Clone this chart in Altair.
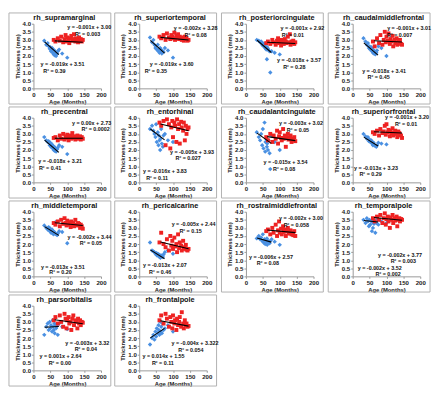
import altair as alt
import pandas as pd

REGIONS = ["rh_supramarginal", "rh_superiortemporal", "rh_posteriorcingulate", "rh_caudalmiddlefrontal",
           "rh_precentral", "rh_entorhinal", "rh_caudalantcingulate", "rh_superiorfrontal",
           "rh_middletemporal", "rh_pericalcarine", "rh_rostralmiddlefrontal", "rh_temporalpole",
           "rh_parsorbitalis", "rh_frontalpole"]

BLUE_AGES = [32, 38, 42, 45, 48, 50, 52, 55, 57, 58, 60, 62, 63, 65, 67, 70, 72, 76, 85, 100]
RED_AGES = [60, 65, 72, 78, 82, 88, 92, 95, 98, 100, 104, 106, 110, 112, 115, 118, 120, 124, 126,
            130, 132, 135, 138, 140, 143, 146]

BLUE_THICK = [
    [2.95, 2.7, 2.8, 2.6, 2.45, 2.55, 2.3, 2.5, 2.2, 2.4, 2.1, 2.35, 2.05, 2.25, 2.0, 2.15, 2.3, 2.4, 2.15, 1.9],
    [3.15, 2.85, 3.0, 2.7, 2.5, 2.6, 2.4, 2.7, 2.3, 2.45, 2.2, 2.5, 2.3, 2.4, 2.15, 2.3, 2.25, 2.5, 2.35, 1.9],
    [3.0, 2.95, 2.85, 2.9, 2.7, 2.8, 2.6, 2.75, 2.5, 2.6, 2.4, 1.8, 2.55, 2.45, 2.35, 2.3, 0.98, 2.3, 2.2, 2.1],
    [3.1, 2.9, 2.7, 2.8, 2.5, 2.6, 2.4, 2.55, 2.3, 2.45, 2.2, 2.35, 2.15, 2.3, 2.1, 2.2, 2.35, 2.6, 2.5, 2.0],
    [2.8, 2.6, 2.5, 2.55, 2.3, 2.45, 2.2, 2.35, 2.1, 2.25, 2.0, 2.2, 1.95, 2.1, 1.9, 2.05, 2.15, 2.3, 2.2, 1.75],
    [3.3, 3.5, 3.2, 3.0, 2.8, 3.6, 2.5, 3.1, 2.3, 2.9, 2.6, 2.0, 2.7, 3.3, 2.4, 2.2, 2.9, 3.0, 2.6, 2.5],
    [3.1, 2.8, 2.6, 3.0, 2.3, 3.3, 2.1, 3.7, 1.9, 2.5, 2.7, 2.2, 2.4, 2.0, 2.6, 1.8, 0.82, 2.9, 2.5, 2.0],
    [3.0, 2.85, 2.7, 2.8, 2.55, 2.65, 2.5, 2.6, 2.4, 2.5, 2.3, 2.45, 2.35, 2.3, 2.25, 2.2, 2.3, 2.45, 2.4, 2.35],
    [3.15, 3.0, 2.9, 3.05, 2.8, 2.95, 2.7, 2.9, 2.65, 2.8, 2.6, 2.75, 2.7, 3.35, 2.6, 2.55, 2.65, 2.8, 2.75, 2.05],
    [2.1, 1.6, 1.55, 1.5, 1.4, 1.45, 1.3, 1.4, 1.25, 1.35, 1.2, 1.3, 1.15, 1.25, 1.3, 1.2, 1.35, 1.5, 1.6, 1.4],
    [2.35, 2.5, 2.3, 2.4, 2.2, 2.6, 2.1, 2.3, 2.0, 2.25, 2.15, 2.35, 1.95, 2.2, 2.1, 2.05, 2.2, 2.3, 2.15, 1.95],
    [3.5, 3.3, 3.6, 3.4, 3.1, 3.5, 3.2, 3.45, 2.8, 3.35, 3.0, 3.55, 3.25, 3.4, 2.7, 3.3, 3.5, 3.2, 3.4, 3.3],
    [2.2, 2.7, 2.9, 2.5, 3.0, 2.6, 2.8, 2.4, 3.1, 2.7, 2.5, 2.9, 2.3, 2.8, 2.6, 2.75, 2.2, 2.9, 2.7, 2.55],
    [1.6, 2.0, 2.2, 1.9, 2.4, 2.1, 2.6, 2.3, 2.8, 2.5, 2.2, 3.0, 2.4, 2.7, 2.3, 2.9, 2.5, 2.6, 2.8, 2.4],
]

RED_THICK = [
    [3.0, 2.9, 3.1, 2.95, 3.2, 2.85, 3.05, 3.3, 2.9, 3.15, 3.0, 2.8, 3.1, 3.25, 2.95, 3.05, 3.35, 2.9, 3.1, 3.0, 2.85, 3.15, 2.95, 3.05, 2.9, 3.0],
    [3.2, 3.1, 3.3, 3.0, 3.4, 3.15, 3.05, 3.3, 3.2, 3.1, 3.45, 3.0, 3.25, 3.15, 3.35, 3.05, 3.2, 3.1, 3.0, 3.15, 2.95, 3.2, 3.05, 3.1, 2.95, 3.0],
    [2.8, 2.9, 2.75, 3.0, 2.85, 2.7, 2.95, 3.1, 2.8, 2.9, 2.65, 3.0, 2.85, 2.75, 3.05, 2.9, 2.8, 3.2, 2.85, 3.35, 2.7, 2.9, 2.8, 2.95, 2.75, 2.85],
    [2.9, 2.6, 3.1, 2.8, 3.3, 2.7, 3.0, 3.5, 2.85, 3.2, 2.95, 3.4, 2.75, 3.05, 2.9, 3.25, 2.6, 3.0, 2.8, 3.1, 2.7, 2.95, 2.85, 3.0, 2.75, 2.7],
    [2.75, 2.8, 2.6, 2.9, 2.7, 3.0, 2.65, 2.85, 2.75, 2.95, 2.6, 2.8, 2.9, 2.7, 3.05, 2.75, 2.85, 2.65, 2.8, 2.9, 2.7, 2.75, 2.85, 2.65, 2.8, 2.7],
    [3.7, 3.5, 3.8, 2.3, 3.9, 3.6, 2.1, 3.4, 3.8, 2.8, 3.7, 3.5, 2.5, 3.9, 3.3, 3.6, 2.4, 3.75, 3.4, 3.2, 3.7, 2.6, 3.5, 3.0, 3.3, 3.4],
    [2.8, 2.6, 3.0, 2.5, 2.9, 2.7, 3.2, 2.4, 2.85, 3.1, 2.75, 2.6, 3.3, 2.7, 2.9, 2.2, 2.8, 3.0, 2.65, 2.75, 2.9, 2.5, 2.7, 2.6, 2.8, 2.55],
    [3.1, 3.0, 3.2, 2.9, 3.3, 3.05, 3.15, 3.5, 2.95, 3.6, 3.1, 3.25, 2.85, 3.2, 3.05, 3.35, 2.9, 3.1, 3.2, 3.0, 2.8, 3.15, 3.05, 2.95, 2.9, 2.75],
    [3.3, 3.2, 3.4, 3.1, 3.5, 3.25, 3.6, 3.3, 3.15, 3.45, 3.2, 3.35, 3.05, 3.4, 3.25, 3.3, 3.1, 3.5, 3.2, 3.15, 3.3, 3.25, 3.0, 3.2, 3.1, 2.95],
    [2.1, 2.7, 2.0, 1.8, 2.3, 1.6, 2.5, 1.9, 2.2, 1.7, 2.4, 1.85, 2.0, 1.5, 2.6, 1.75, 2.1, 1.9, 1.6, 2.2, 1.7, 1.8, 1.95, 1.65, 1.6, 1.7],
    [2.8, 2.9, 2.6, 3.0, 2.7, 3.2, 2.5, 2.85, 3.4, 2.7, 2.95, 2.6, 3.1, 2.75, 2.9, 2.5, 2.8, 3.0, 2.65, 2.75, 2.85, 2.6, 2.7, 2.55, 2.8, 2.5],
    [3.6, 3.4, 3.7, 3.5, 3.8, 3.3, 3.6, 3.9, 3.2, 3.55, 3.7, 3.4, 3.0, 3.65, 3.5, 3.8, 3.3, 3.6, 3.45, 3.7, 3.1, 3.5, 3.6, 3.4, 3.55, 3.5],
    [3.1, 3.3, 2.9, 3.4, 3.0, 2.7, 3.5, 3.2, 2.6, 3.1, 3.3, 2.9, 3.0, 2.5, 3.2, 3.4, 2.8, 3.1, 3.0, 2.6, 3.2, 2.9, 3.1, 2.8, 3.0, 2.95],
    [3.1, 3.4, 2.9, 3.5, 3.2, 2.7, 3.3, 3.0, 2.6, 3.4, 2.9, 3.1, 2.5, 3.2, 2.8, 3.0, 3.3, 2.7, 3.6, 2.9, 2.6, 3.1, 2.8, 2.9, 2.7, 2.75],
]

RED_SLOPE = [-0.001, -0.002, -0.001, -0.001, 0.00, -0.005, -0.003, -0.001, -0.002, -0.005, -0.002, -0.002, -0.003, -0.004]
RED_INTERCEPT = [3.00, 3.28, 2.92, 3.01, 2.73, 3.93, 3.02, 3.20, 3.44, 2.44, 3.00, 3.77, 3.32, 3.322]
BLUE_SLOPE = [-0.019, -0.019, -0.018, -0.018, -0.018, -0.016, -0.015, -0.013, -0.013, -0.013, -0.006, -0.002, 0.001, 0.014]
BLUE_INTERCEPT = [3.51, 3.60, 3.57, 3.41, 3.21, 3.83, 3.54, 3.23, 3.51, 2.07, 2.57, 3.52, 2.64, 1.55]

RED_EQ = ["y = -0.001x + 3.00", "y = -0.002x + 3.28", "y = -0.001x + 2.92", "y = -0.001x + 3.01",
          "y = 0.00x + 2.73", "y = -0.005x + 3.93", "y = -0.003x + 3.02", "y = -0.001x + 3.20",
          "y = -0.002x + 3.44", "y = -0.005x + 2.44", "y = -0.002x + 3.00", "y = -0.002x + 3.77",
          "y = -0.003x + 3.32", "y = -0.004x + 3.322"]
RED_R2 = ["R² = 0.003", "R² = 0.08", "R² = 0.01", "R² = 0.007", "R² = 0.0002", "R² = 0.027", "R² = 0.05",
          "R² = 0.01", "R² = 0.05", "R² = 0.15", "R² = 0.058", "R² = 0.003", "R² = 0.04", "R² = 0.054"]
BLUE_EQ = ["y = -0.019x + 3.51", "y = -0.019x + 3.60", "y = -0.018x + 3.57", "y = -0.018x + 3.41",
           "y = -0.018x + 3.21", "y = -0.016x + 3.83", "y = -0.015x + 3.54", "y = -0.013x + 3.23",
           "y = -0.013x + 3.51", "y = -0.013x + 2.07", "y = -0.006x + 2.57", "y = -0.002x + 3.52",
           "y = 0.001x + 2.64", "y = 0.014x + 1.55"]
BLUE_R2 = ["R² = 0.39", "R² = 0.35", "R² = 0.28", "R² = 0.45", "R² = 0.41", "R² = 0.11", "R² = 0.08",
           "R² = 0.29", "R² = 0.20", "R² = 0.46", "R² = 0.08", "R² = 0.002", "R² = 0.00", "R² = 0.11"]

# annotation anchors (age, thickness) for the equation labels
RED_EQ_POS = [(165, 3.78), (167, 3.73), (167, 3.75), (167, 3.73), (172, 3.7), (156, 1.85), (163, 3.7),
              (161, 4.02), (166, 2.45), (161, 3.22), (163, 3.58), (140, 1.3), (159, 1.7), (165, 1.7)]
RED_R2_POS = [(160, 3.38), (167, 3.3), (139, 3.3), (139, 3.3), (184, 3.3), (145, 1.52), (154, 3.24),
              (158, 3.62), (170, 2.09), (152, 2.83), (149, 3.2), (150, 0.92), (155, 1.32), (153, 1.28)]
BLUE_EQ_POS = [(86, 1.5), (96, 1.5), (157, 1.74), (93, 1.06), (79, 1.31), (76, 0.72), (117, 1.27),
               (69, 0.9), (87, 0.6), (76, 0.72), (74, 1.2), (80, 0.52), (80, 0.89), (72, 0.89)]
BLUE_R2_POS = [(62, 1.06), (49, 1.06), (143, 1.31), (77, 0.68), (49, 0.87), (53, 0.27), (113, 0.82),
               (53, 0.5), (80, 0.24), (62, 0.29), (65, 0.81), (105, 0.15), (78, 0.45), (70, 0.45)]

BLUE_FIT_RANGE = [33, 75]
RED_FIT_RANGE = [63, 146]

BLUE = "#4A90E2"
RED = "#EE2222"
FONT = "Liberation Sans, Arial, sans-serif"
W, H = 69, 66

xs = alt.Scale(domain=[0, 200], nice=False, zero=False)
ys = alt.Scale(domain=[0, 4], nice=False)
X = alt.X("age:Q", scale=xs, axis=alt.Axis(values=[0, 50, 100, 150, 200], title="Age (Months)"))
Y = alt.Y("thick:Q", scale=ys,
          axis=alt.Axis(values=[0, 0.5, 1, 1.5, 2, 2.5, 3, 3.5, 4], format=".1f", title="Thickness (mm)"))


def panel(i):
    blue_df = pd.DataFrame({"age": BLUE_AGES, "thick": BLUE_THICK[i]})
    red_df = pd.DataFrame({"age": RED_AGES, "thick": RED_THICK[i]})
    line_rows = []
    for a in BLUE_FIT_RANGE:
        line_rows.append({"age": a, "thick": BLUE_SLOPE[i] * a + BLUE_INTERCEPT[i], "g": "blue"})
    for a in RED_FIT_RANGE:
        line_rows.append({"age": a, "thick": RED_SLOPE[i] * a + RED_INTERCEPT[i], "g": "red"})
    line_df = pd.DataFrame(line_rows)
    txt_df = pd.DataFrame([
        {"age": RED_EQ_POS[i][0], "thick": RED_EQ_POS[i][1], "t": RED_EQ[i]},
        {"age": RED_R2_POS[i][0], "thick": RED_R2_POS[i][1], "t": RED_R2[i]},
        {"age": BLUE_EQ_POS[i][0], "thick": BLUE_EQ_POS[i][1], "t": BLUE_EQ[i]},
        {"age": BLUE_R2_POS[i][0], "thick": BLUE_R2_POS[i][1], "t": BLUE_R2[i]},
    ])
    one = pd.DataFrame({"k": [0]})

    frame = alt.Chart(one).mark_rect(fillOpacity=0, stroke="#b0b0b0", strokeWidth=1).encode(
        x=alt.value(-25), x2=alt.value(79), y=alt.value(-11), y2=alt.value(82))
    title = alt.Chart(one).mark_text(font=FONT, fontSize=7.5, fontWeight="bold", color="#111",
                                     baseline="middle").encode(
        x=alt.value(W / 2 - 3), y=alt.value(-6), text=alt.value(REGIONS[i]))
    blue = alt.Chart(blue_df).mark_point(shape="diamond", filled=True, size=20, color=BLUE,
                                         opacity=1).encode(x=X, y=Y)
    red = alt.Chart(red_df).mark_square(size=16, color=RED, opacity=1).encode(x=X, y=Y)
    lines = alt.Chart(line_df).mark_line(color="black", strokeWidth=1.1).encode(x=X, y=Y, detail="g:N")
    texts = alt.Chart(txt_df).mark_text(font=FONT, fontSize=5.5, fontWeight="bold", color="#111",
                                        baseline="middle").encode(x=X, y=Y, text="t:N")
    return alt.layer(frame, blue, red, lines, texts, title).properties(width=W, height=H)


chart = alt.concat(*[panel(i) for i in range(len(REGIONS))], columns=4,
                   spacing={"row": 1, "column": 2}).properties(
    padding={"left": 0, "top": 0, "right": 0, "bottom": 0}
).configure_view(stroke=None).configure_axis(
    grid=False, domainColor="#999", tickColor="#999", tickSize=2,
    labelFont=FONT, labelFontSize=6.2, labelFontWeight="bold", labelColor="#222", labelPadding=1,
    labelFlush=False, labelOverlap=False,
    titleFont=FONT, titleFontSize=6, titleFontWeight="bold", titleColor="#222", titlePadding=1,
).configure_axisY(titlePadding=2)

chart.save("out.html", embed_options={"renderer": "svg", "actions": False})
